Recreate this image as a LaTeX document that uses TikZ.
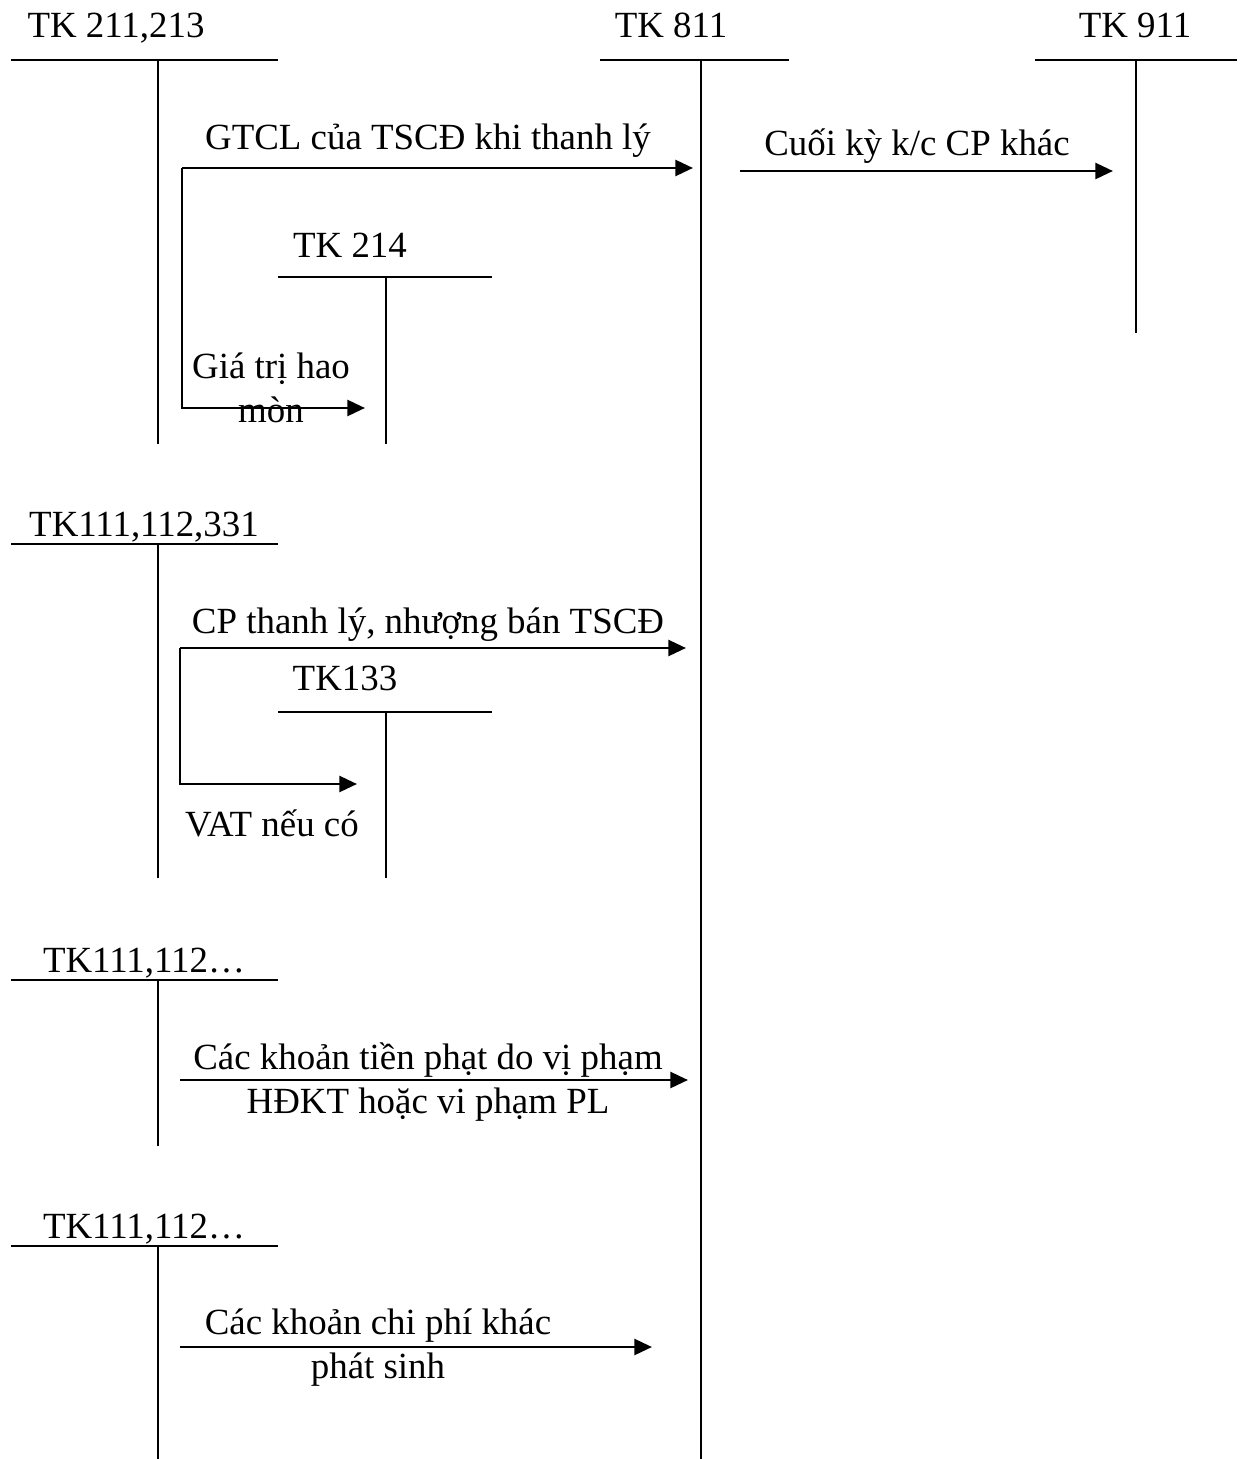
\documentclass[tikz,border=0pt]{standalone}
\usepackage{fontspec}
\setmainfont{Liberation Serif}
\usetikzlibrary{arrows.meta, positioning, calc}

\begin{document}
\begin{tikzpicture}[x=0.02cm, y=-0.02cm,
        acct/.style={font=\fontsize{21}{24.5}\selectfont, inner sep=0pt, anchor=base},
        lbl/.style={font=\fontsize{21}{24.5}\selectfont, inner sep=0pt, anchor=base, align=center},
        tline/.style={line width=1.3pt},
        flow/.style={line width=1.6pt, -{Triangle[length=10pt, width=9pt]}}
    ]
    \useasboundingbox (0,0) rectangle (1242,1459);

    % Accounts (T shapes)
    \node[acct] (tk211) at (116,38) {TK 211,213};
    \draw[tline] (11,60) -- (278,60) (158,60) -- (158,444);

    \node[acct] (tk811) at (671,38) {TK 811};
    \draw[tline] (600,60) -- (789,60) (701,60) -- (701,1459);

    \node[acct] (tk911) at (1135,38) {TK 911};
    \draw[tline] (1035,60) -- (1237,60) (1136,60) -- (1136,333);

    \node[acct] (tk214) at (350,258) {TK 214};
    \draw[tline] (278,277) -- (492,277) (386,277) -- (386,444);

    \node[acct] (tk111a) at (144,536) {TK111,112,331};
    \draw[tline] (11,544) -- (278,544) (158,544) -- (158,878);

    \node[acct] (tk133) at (345,690) {TK133};
    \draw[tline] (278,712) -- (492,712) (386,712) -- (386,878);

    \node[acct] (tk111b) at (144,972) {TK111,112\dots};
    \draw[tline] (11,980) -- (278,980) (158,980) -- (158,1146);

    \node[acct] (tk111c) at (144,1238) {TK111,112\dots};
    \draw[tline] (11,1246) -- (278,1246) (158,1246) -- (158,1459);

    % Arrow end points
    \coordinate (gtclA) at (182,168);
    \coordinate (gtclB) at (693,168);
    \coordinate (hmB) at (365,408);
    \coordinate (kcA) at (740,171);
    \coordinate (kcB) at (1113,171);
    \coordinate (cpA) at (180,648);
    \coordinate (cpB) at (686,648);
    \coordinate (vatB) at (357,784);
    \coordinate (phA) at (180,1080);
    \coordinate (phB) at (688,1080);
    \coordinate (khA) at (180,1347);
    \coordinate (khB) at (652,1347);

    % Flows
    \draw[flow] (gtclA) -- (gtclB);
    \draw[flow] (gtclA) |- (hmB);
    \draw[flow] (kcA) -- (kcB);
    \draw[flow] (cpA) -- (cpB);
    \draw[flow] (cpA) |- (vatB);
    \draw[flow] (phA) -- (phB);
    \draw[flow] (khA) -- (khB);

    % Labels (base = last line)
    \node[lbl] (gtcl) at (428,150) {GTCL của TSCĐ khi thanh lý};
    \node[lbl] (kc) at (917,156) {Cuối kỳ k/c CP khác};
    \node[lbl] (hm) at (271,422) {Giá trị hao\\mòn};
    \node[lbl] (cp) at (428,633) {CP thanh lý, nhượng bán TSCĐ};
    \node[lbl] (vat) at (272,836) {VAT nếu có};
    \node[lbl] (ph) at (428,1113) {Các khoản tiền phạt do vị phạm\\HĐKT hoặc vi phạm PL};
    \node[lbl] (kh) at (378,1378) {Các khoản chi phí khác\\phát sinh};

\end{tikzpicture}
\end{document}
